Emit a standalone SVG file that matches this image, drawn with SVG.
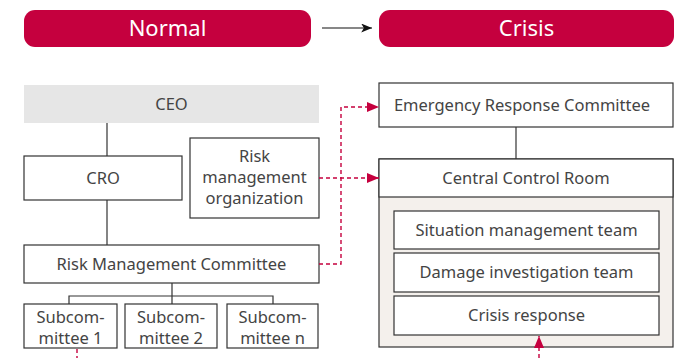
<svg xmlns="http://www.w3.org/2000/svg" width="680" height="358" viewBox="0 0 680 358">
<style>
.hdr{fill:#C5003E}
.ht{font-family:"Noto Sans","Open Sans",sans-serif;font-size:22px;fill:#fff;text-anchor:middle}
.box{fill:#fff;stroke:#333;stroke-width:1.2}
.t{font-family:"Noto Sans","Open Sans",sans-serif;font-size:16.5px;fill:#444;text-anchor:middle}
.ln{fill:none;stroke:#333;stroke-width:1.2}
.dash{fill:none;stroke:#C5003E;stroke-width:1.4;stroke-dasharray:4 3}
</style>
<defs>
<marker id="ra" viewBox="0 0 12 10" refX="12" refY="5" markerWidth="12" markerHeight="10" markerUnits="userSpaceOnUse" orient="auto"><path d="M0,0 L12,5 L0,10 Z" fill="#C5003E"/></marker>
<marker id="ba" viewBox="0 0 12 10" refX="12" refY="5" markerWidth="12" markerHeight="9" markerUnits="userSpaceOnUse" orient="auto"><path d="M0,0 L12,5 L0,10 L3,5 Z" fill="#111"/></marker>
</defs>
<rect width="680" height="358" fill="#fff"/>
<g id="normal"><rect class="hdr" x="24" y="10" width="287" height="37" rx="11"/><text class="ht" x="167.5" y="36">Normal</text></g>
<g id="crisis"><rect class="hdr" x="379" y="10" width="295" height="37" rx="11"/><text class="ht" x="526.5" y="36">Crisis</text></g>
<g id="ceo"><rect x="24" y="85" width="295" height="38" fill="#E6E6E6"/><text class="t" x="171.5" y="109.5">CEO</text></g>
<g id="cro"><rect class="box" x="24" y="156" width="158" height="44"/><text class="t" x="103" y="183.5">CRO</text></g>
<g id="rmo"><rect class="box" x="190" y="138" width="129" height="80"/><text class="t" x="254.5" y="161.5">Risk</text><text class="t" x="254.5" y="183">management</text><text class="t" x="254.5" y="204">organization</text></g>
<g id="rmc"><rect class="box" x="24" y="245" width="295" height="38"/><text class="t" x="171.5" y="269.5">Risk Management Committee</text></g>
<g id="sub1"><rect class="box" x="24" y="304" width="93" height="44"/><text class="t" x="70.5" y="322.5">Subcom-</text><text class="t" x="70.5" y="343.5">mittee 1</text></g>
<g id="sub2"><rect class="box" x="125" y="304" width="92" height="44"/><text class="t" x="171" y="322.5">Subcom-</text><text class="t" x="171" y="343.5">mittee 2</text></g>
<g id="subn"><rect class="box" x="227" y="304" width="91" height="44"/><text class="t" x="272.5" y="322.5">Subcom-</text><text class="t" x="272.5" y="343.5">mittee n</text></g>
<g id="erc"><rect class="box" x="379" y="83" width="294" height="44"/><text class="t" x="522" y="110.5">Emergency Response Committee</text></g>
<g id="ccr"><rect x="379" y="159" width="294" height="188" fill="#F4F0EC" stroke="#333" stroke-width="1.2"/><rect class="box" x="379" y="159" width="294" height="38"/><text class="t" x="526" y="183.5">Central Control Room</text></g>
<g id="smt"><rect class="box" x="394" y="211" width="265" height="38"/><text class="t" x="526.5" y="235.5">Situation management team</text></g>
<g id="dit"><rect class="box" x="394" y="253" width="265" height="39"/><text class="t" x="526.5" y="277.5">Damage investigation team</text></g>
<g id="cr"><rect class="box" x="394" y="296" width="265" height="39"/><text class="t" x="526.5" y="320.5">Crisis response</text></g>
<g id="connectors">
<line x1="322" y1="28" x2="372" y2="28" stroke="#111" stroke-width="1.2" marker-end="url(#ba)"/>
<line class="ln" x1="107" y1="123" x2="107" y2="156"/>
<line class="ln" x1="107" y1="200" x2="107" y2="245"/>
<line class="ln" x1="516" y1="127" x2="516" y2="159"/>
<path class="ln" d="M172,283 V296 M69,304 V296 H273 V304 M172,296 V304"/>
<path class="dash" d="M319,264 H341 V107 H379" marker-end="url(#ra)"/>
<path class="dash" d="M319,178 H379" marker-end="url(#ra)"/>
<line class="dash" x1="77" y1="349" x2="77" y2="358"/>
<line class="dash" x1="539" y1="358" x2="539" y2="336" marker-end="url(#ra)"/>
</g>
</svg>
